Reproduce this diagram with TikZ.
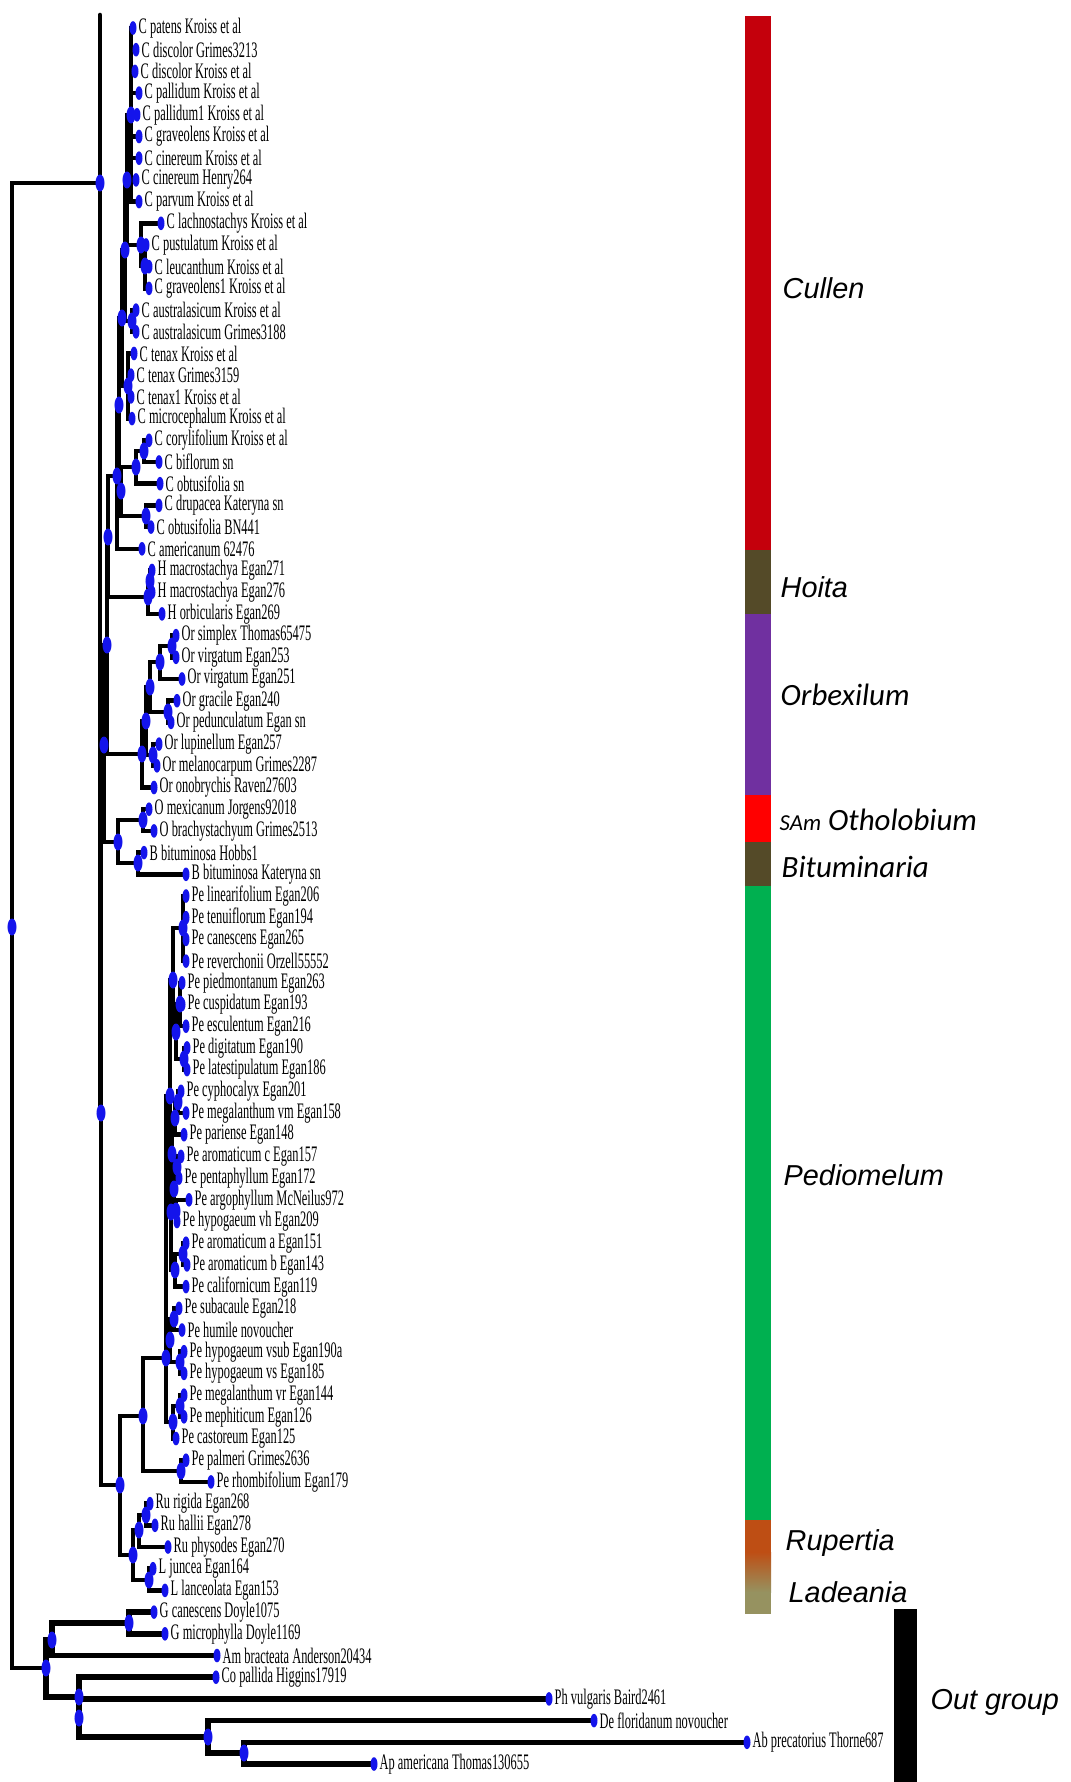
\documentclass[tikz,border=0pt]{standalone}
\usepackage{fontspec}
\usepackage{tikz}
\newfontfamily\leaffont[FakeStretch=0.56]{Liberation Serif}
\newfontfamily\cladefont{Liberation Sans}
\newfontfamily\calfont{Carlito}
\definecolor{nodeblue}{RGB}{20, 20, 235}
\definecolor{cullenred}{RGB}{196, 0, 12}
\definecolor{hoitaolive}{RGB}{84, 74, 40}
\definecolor{orbpurple}{RGB}{112, 48, 160}
\definecolor{othred}{RGB}{255, 0, 0}
\definecolor{pedgreen}{RGB}{0, 176, 80}
\definecolor{ruporange}{RGB}{190, 78, 20}
\definecolor{ladkhaki}{RGB}{150, 146, 96}

\begin{document}
\begin{tikzpicture}
  [
    x=0.01cm, y=-0.01cm,
    branch/.style={line width=1.3pt, line cap=round},
    outbranch/.style={line width=1.6pt, line cap=round},
    leaf/.style={font=\leaffont\fontsize{6.3}{7}\selectfont, anchor=west, inner sep=0pt},
    clade/.style={font=\cladefont\itshape\fontsize{8.2}{9}\selectfont, anchor=west, inner sep=0pt},
    calclade/.style={font=\calfont\itshape\fontsize{8.8}{10}\selectfont, anchor=west, inner sep=0pt}
  ]
  \fill[white] (0,0) rectangle (1071,1782);
  \useasboundingbox (0,0) rectangle (1071,1782);

  \foreach \n/\px/\py in {R/12/927, I/100/183, itop/100/15, N4/101/1113, N3/104/745, N2/107/645, N1/108/537,
      C0/117/476, Cu/119/405, Ct/122/318, Cy/125/250, Cx/127/180, Ca/131/115, Cb/141/245, Cb2/145/266,
      Cc/132/321, Cd/128/386, Cg/121/491, Ce/136/467, Ce1/144/451, Cf/146/516,
      Ho/148/597, Ho1/150/581,
      Or/142/754, Or7/146/721, Or4/150/687, Or2/160/662, Or1/172/646, Or3/168/712, Or5/153/755,
      OB/118/842, Oth/143/820, Bit/138/863,
      PRL/120/1485, Pe0/143/1416, PeA/166/1358, PeB/181/1471,
      P15/170/1096, P5/173/980, P1/183/928, P4/176/1032, P2/180/1004, P3/184/1059,
      P14/171/1212, P11/172/1154, P7/175/1118, P6/178/1102, P10/174/1189, P8/177/1167, P9/176/1211,
      P13/175/1270, P12/183/1254, P18/170/1340, P17/174/1319, P16/180/1362, P20/173/1422, P19/180/1406,
      RL/133/1555, Ru/139/1530, Ru1/146/1515, L/149/1580,
      O/46/1668, Og1/52/1640, G/129/1623, Og2/79/1697, Og2b/79/1718, Og3/208/1737, Og4/244/1753}
    \coordinate (\n) at (\px,\py);

  \foreach \i/\px/\t in {1/133/{C patens Kroiss et al}, 2/136/{C discolor Grimes3213}, 3/135/{C discolor Kroiss et al},
      4/139/{C pallidum Kroiss et al}, 5/137/{C pallidum1 Kroiss et al}, 6/139/{C graveolens Kroiss et al},
      7/139/{C cinereum Kroiss et al}, 8/136/{C cinereum Henry264}, 9/139/{C parvum Kroiss et al},
      10/161/{C lachnostachys Kroiss et al}, 11/146/{C pustulatum Kroiss et al}, 12/149/{C leucanthum Kroiss et al},
      13/149/{C graveolens1 Kroiss et al}, 14/136/{C australasicum Kroiss et al}, 15/136/{C australasicum Grimes3188},
      16/134/{C tenax Kroiss et al}, 17/131/{C tenax Grimes3159}, 18/131/{C tenax1 Kroiss et al},
      19/132/{C microcephalum Kroiss et al}, 20/149/{C corylifolium Kroiss et al}, 21/159/{C biflorum sn},
      22/160/{C obtusifolia sn}, 23/159/{C drupacea Kateryna sn}, 24/151/{C obtusifolia BN441},
      25/142/{C americanum 62476}, 26/152/{H macrostachya Egan271}, 27/152/{H macrostachya Egan276},
      28/162/{H orbicularis Egan269}, 29/176/{Or simplex Thomas65475}, 30/176/{Or virgatum Egan253},
      31/182/{Or virgatum Egan251}, 32/177/{Or gracile Egan240}, 33/171/{Or pedunculatum Egan sn},
      34/159/{Or lupinellum Egan257}, 35/157/{Or melanocarpum Grimes2287}, 36/154/{Or onobrychis Raven27603},
      37/149/{O mexicanum Jorgens92018}, 38/154/{O brachystachyum Grimes2513}, 39/144/{B bituminosa Hobbs1},
      40/186/{B bituminosa Kateryna sn}, 41/186/{Pe linearifolium Egan206}, 42/186/{Pe tenuiflorum Egan194},
      43/186/{Pe canescens Egan265}, 44/186/{Pe reverchonii Orzell55552}, 45/182/{Pe piedmontanum Egan263},
      46/182/{Pe cuspidatum Egan193}, 47/186/{Pe esculentum Egan216}, 48/187/{Pe digitatum Egan190},
      49/187/{Pe latestipulatum Egan186}, 50/181/{Pe cyphocalyx Egan201}, 51/186/{Pe megalanthum vm Egan158},
      52/184/{Pe pariense Egan148}, 53/181/{Pe aromaticum c Egan157}, 54/179/{Pe pentaphyllum Egan172},
      55/189/{Pe argophyllum McNeilus972}, 56/177/{Pe hypogaeum vh Egan209}, 57/186/{Pe aromaticum a Egan151},
      58/187/{Pe aromaticum b Egan143}, 59/186/{Pe californicum Egan119}, 60/179/{Pe subacaule Egan218},
      61/182/{Pe humile novoucher}, 62/184/{Pe hypogaeum vsub Egan190a}, 63/184/{Pe hypogaeum vs Egan185},
      64/184/{Pe megalanthum vr Egan144}, 65/184/{Pe mephiticum Egan126}, 66/176/{Pe castoreum Egan125},
      67/186/{Pe palmeri Grimes2636}, 68/211/{Pe rhombifolium Egan179}, 69/150/{Ru rigida Egan268},
      70/155/{Ru hallii Egan278}, 71/168/{Ru physodes Egan270}, 72/153/{L juncea Egan164},
      73/165/{L lanceolata Egan153}, 74/154/{G canescens Doyle1075}, 75/165/{G microphylla Doyle1169},
      76/217/{Am bracteata Anderson20434}, 77/216/{Co pallida Higgins17919}, 78/549/{Ph vulgaris Baird2461},
      79/594/{De floridanum novoucher}, 80/747/{Ab precatorius Thorne687}, 81/374/{Ap americana Thomas130655}}
  {
    \coordinate (l\i) at (\px,{28+(\i-1)*21.7});
    \node[leaf] (t\i) at ([xshift=0.05cm]l\i) {\t};
  }

  \draw[branch] (I) -- (itop);
  \foreach \p/\c in {R/I, R/O, I/N4, N4/N3, N4/PRL, N3/N2, N3/OB, N2/N1, N2/Or, N1/C0, N1/Ho,
      C0/Cu, C0/l25, Cu/Ct, Cu/Cg, Ct/Cy, Ct/Cd, Cy/Cx, Cy/Cc, Cx/Ca, Cx/Cb, Cb/l10, Cb/Cb2,
      Cb2/l11, Cb2/l12, Cb2/l13, Cc/l14, Cc/l15, Cd/l16, Cd/l17, Cd/l18, Cd/l19,
      Ca/l1, Ca/l2, Ca/l3, Ca/l4, Ca/l5, Ca/l6, Ca/l7, Ca/l8, Ca/l9,
      Cg/Ce, Cg/Cf, Ce/Ce1, Ce/l22, Ce1/l20, Ce1/l21, Cf/l23, Cf/l24,
      Ho/Ho1, Ho/l28, Ho1/l26, Ho1/l27,
      Or/Or7, Or/l36, Or7/Or4, Or7/Or5, Or4/Or2, Or4/Or3, Or2/Or1, Or2/l31, Or1/l29, Or1/l30,
      Or3/l32, Or3/l33, Or5/l34, Or5/l35,
      OB/Oth, OB/Bit, Oth/l37, Oth/l38, Bit/l39, Bit/l40,
      PRL/Pe0, PRL/RL, Pe0/PeA, Pe0/PeB, PeB/l67, PeB/l68, PeA/P15, PeA/P18, PeA/P20,
      P15/P5, P15/P14, P5/P1, P5/P4, P1/l41, P1/l42, P1/l43, P1/l44, P4/P2, P4/P3,
      P2/l45, P2/l46, P2/l47, P3/l48, P3/l49,
      P14/P11, P14/P13, P11/P7, P11/P10, P7/P6, P7/l52, P6/l50, P6/l51, P10/P8, P10/P9,
      P8/l53, P8/l54, P9/l55, P9/l56, P13/P12, P13/l59, P12/l57, P12/l58,
      P18/P17, P18/P16, P17/l60, P17/l61, P16/l62, P16/l63, P20/P19, P20/l66, P19/l64, P19/l65,
      RL/Ru, RL/L, Ru/Ru1, Ru/l71, Ru1/l69, Ru1/l70, L/l72, L/l73}
    \draw[branch] (\p) |- (\c);
  \foreach \p/\c in {O/Og1, O/Og2, Og1/G, Og1/l76, G/l74, G/l75, Og2/l77, Og2/Og2b,
      Og2b/l78, Og2b/Og3, Og3/l79, Og3/Og4, Og4/l80, Og4/l81}
    \draw[outbranch] (\p) |- (\c);

  \foreach \n in {R, I, N4, N3, N2, N1, C0, Cu, Ct, Cy, Cx, Ca, Cb, Cb2, Cc, Cd, Cg, Ce, Ce1, Cf,
      Ho, Ho1, Or, Or7, Or4, Or2, Or1, Or3, Or5, OB, Oth, Bit, PRL, Pe0, PeA, PeB,
      P15, P5, P1, P4, P2, P3, P14, P11, P7, P6, P10, P8, P9, P13, P12, P18, P17, P16, P20, P19,
      RL, Ru, Ru1, L, O, Og1, G, Og2, Og2b, Og3, Og4}
    \fill[nodeblue] (\n) ellipse [x radius=0.045cm, y radius=0.085cm];
  \foreach \i in {1,...,81}
    \fill[nodeblue] (l\i) ellipse [x radius=0.035cm, y radius=0.068cm];

  \fill[cullenred] (745,16) rectangle (771,550);
  \fill[hoitaolive] (745,550) rectangle (771,614);
  \fill[orbpurple] (745,614) rectangle (771,795);
  \fill[othred] (745,795) rectangle (771,842);
  \fill[hoitaolive] (745,842) rectangle (771,886);
  \fill[pedgreen] (745,886) rectangle (771,1520);
  \fill[ruporange] (745,1520) rectangle (771,1552);
  \shade[top color=ruporange, bottom color=ladkhaki] (745,1552) rectangle (771,1592);
  \fill[ladkhaki] (745,1592) rectangle (771,1614);
  \fill[black] (894,1609) rectangle (917,1782);

  \node[clade] (cullen) at (782,288) {Cullen};
  \node[clade] (hoita) at (780,587) {Hoita};
  \node[calclade] (orbexilum) at (780,695) {Orbexilum};
  \node[calclade] (otholobium) at (779,820) {{\fontsize{6.5}{8}\selectfont SAm} Otholobium};
  \node[calclade] (bituminaria) at (781,867) {Bituminaria};
  \node[clade] (pediomelum) at (783,1175) {Pediomelum};
  \node[clade] (rupertia) at (785,1543) {Rupertia};
  \node[clade] (ladeania) at (788,1592) {Ladeania};
  \node[clade] (outgroup) at (930,1702) {Out group};
\end{tikzpicture}
\end{document}
